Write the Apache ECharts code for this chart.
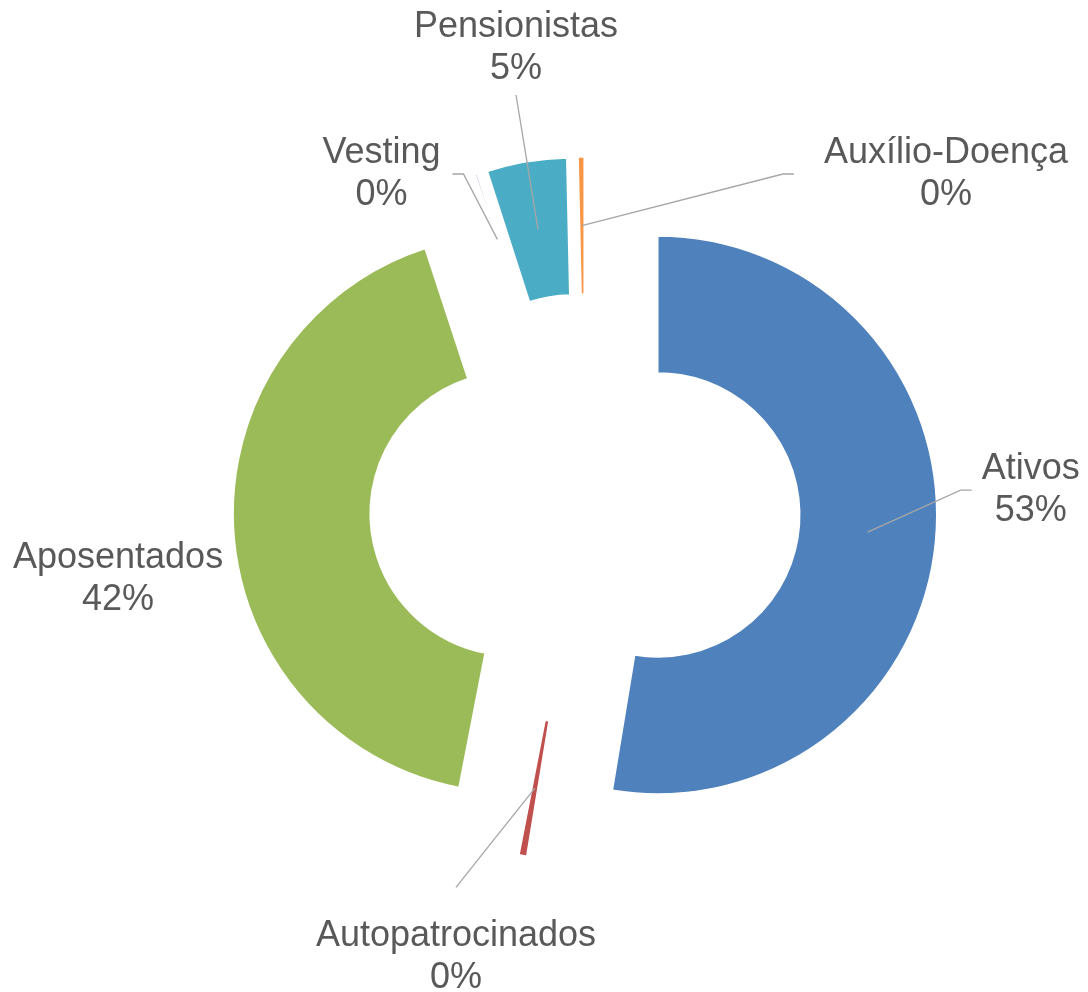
<!DOCTYPE html>
<html>
<head>
<meta charset="utf-8">
<script src="https://cdn.jsdelivr.net/npm/echarts@6/dist/echarts.min.js"></script>
<style>
  html, body { margin: 0; padding: 0; background: #fff; }
  #chart { width: 1088px; height: 992px; }
</style>
</head>
<body>
<div id="chart"></div>
<script>
// ---- data ----
const categories = ['Ativos', 'Autopatrocinados', 'Aposentados', 'Vesting', 'Pensionistas', 'Auxílio-Doença'];
const shares = [52.6, 0.45, 41.9, 0.1, 4.6, 0.35];

// ---- styles / layout ----
const colors = ['#4F81BD', '#C0504D', '#9BBB59', '#8064A2', '#4BACC6', '#F79646'];
const W = 1088, H = 992;
const CENTER = [585, 509];
const R_IN = 142, R_OUT = 279, EXPLODE = 73;
// label anchor (fraction of width / height), leader side, gap to label box
const labelCfg = [
  { fx: 0.9473, fy: 0.494, side: 'left', gap: 10 },
  { fx: 0.4191, fy: 0.965, side: 'top', gap: 28 },
  { fx: 0.1085, fy: 0.584, side: 'none', gap: 0 },
  { fx: 0.3506, fy: 0.1754, side: 'right', gap: 12 },
  { fx: 0.4743, fy: 0.0484, side: 'bottom', gap: 5 },
  { fx: 0.8695, fy: 0.1754, side: 'left', gap: 30 }
];

const total = shares.reduce((a, b) => a + b, 0);
const midAngles = [];
(function () {
  let acc = 0;
  shares.forEach(v => {
    midAngles.push((acc + v / 2) / total * 2 * Math.PI);
    acc += v;
  });
})();

// each slice is drawn by its own ring, pushed out along its mid angle (exploded doughnut)
function explodedCenter(i) {
  const a = midAngles[i];
  return [CENTER[0] + Math.sin(a) * EXPLODE, CENTER[1] - Math.cos(a) * EXPLODE];
}
function sliceMidPoint(i) {
  const a = midAngles[i];
  const c = explodedCenter(i);
  const r = (R_IN + R_OUT) / 2;
  return [c[0] + Math.sin(a) * r, c[1] - Math.cos(a) * r];
}

function labelLayout(params) {
  const i = params.dataIndex;
  const cfg = labelCfg[i];
  const lx = cfg.fx * W, ly = cfg.fy * H;
  const w = params.labelRect.width, h = params.labelRect.height;
  const s = sliceMidPoint(i);
  let pts;
  if (cfg.side === 'left') {
    const e = [lx - w / 2 - cfg.gap, ly];
    pts = [s, [e[0] - 11, ly], e];
  } else if (cfg.side === 'right') {
    const e = [lx + w / 2 + cfg.gap, ly];
    pts = [s, [e[0] + 11, ly], e];
  } else if (cfg.side === 'bottom') {
    const e = [lx, ly + h / 2 + cfg.gap];
    pts = [s, [(s[0] + e[0]) / 2, (s[1] + e[1]) / 2], e];
  } else if (cfg.side === 'top') {
    const e = [lx, ly - h / 2 - cfg.gap];
    pts = [s, [(s[0] + e[0]) / 2, (s[1] + e[1]) / 2], e];
  } else {
    pts = [s, s, s];
  }
  return { x: lx, y: ly, align: 'center', verticalAlign: 'middle', labelLinePoints: pts };
}

const baseRing = {
  type: 'pie',
  radius: [R_IN, R_OUT],
  startAngle: 90,
  clockwise: true,
  avoidLabelOverlap: false,
  silent: true,
  emphasis: { disabled: true, scale: false }
};

// one ring per slice (only that slice painted)
const sliceSeries = categories.map((cat, k) => Object.assign({}, baseRing, {
  name: cat,
  center: explodedCenter(k),
  z: 2,
  label: { show: false },
  labelLine: { show: false },
  data: categories.map((name, i) => ({
    name: name,
    value: shares[i],
    itemStyle: i === k
      ? { color: colors[i], borderColor: '#ffffff', borderWidth: 1.5 }
      : { color: 'rgba(0,0,0,0)', borderWidth: 0 }
  }))
}));

// transparent ring on top carrying the data labels and leader lines
const labelSeries = Object.assign({}, baseRing, {
  name: 'labels',
  center: CENTER,
  z: 5,
  itemStyle: { color: 'rgba(0,0,0,0)', borderWidth: 0 },
  label: {
    show: true,
    position: 'outside',
    fontFamily: '"Liberation Sans", Arial, sans-serif',
    fontSize: 36,
    lineHeight: 42,
    color: '#595959',
    align: 'center',
    formatter: p => p.name + '\n' + Math.round(p.value / total * 100) + '%'
  },
  labelLine: { show: true, lineStyle: { color: '#A6A6A6', width: 1.3 } },
  labelLayout: labelLayout,
  data: categories.map((name, i) => ({
    name: name,
    value: shares[i],
    labelLine: { show: labelCfg[i].side !== 'none' }
  }))
});

const chart = echarts.init(document.getElementById('chart'), null, { renderer: 'canvas' });
chart.setOption({ animation: false, backgroundColor: '#ffffff', series: sliceSeries.concat([labelSeries]) });
</script>
</body>
</html>
